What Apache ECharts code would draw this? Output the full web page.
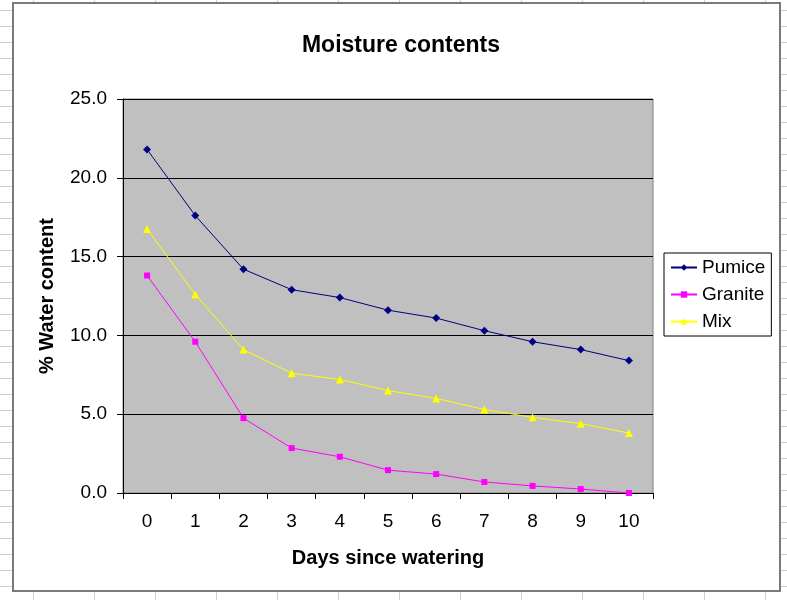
<!DOCTYPE html>
<html>
<head>
<meta charset="utf-8">
<script src="https://cdn.jsdelivr.net/npm/echarts@6/dist/echarts.min.js"></script>
<style>
html,body{margin:0;padding:0;width:787px;height:600px;overflow:hidden;}
body{
  background-color:#fff;
  background-image:
    linear-gradient(to bottom, #cfcfcf 1px, transparent 1px),
    linear-gradient(to right, #cfcfcf 1px, transparent 1px);
  background-size: 100% 16px, 61px 100%;
  background-position: 0 10px, 33px 0;
}
#box{position:absolute;left:12px;top:2px;width:765px;height:586px;background:#fff;border:2px solid #7a7a7a;}
#chart{position:absolute;left:0;top:0;width:787px;height:600px;}
</style>
</head>
<body>
<div id="box"></div>
<div id="chart"></div>
<script>
const categories = ['0','1','2','3','4','5','6','7','8','9','10'];
const pumice  = [21.8, 17.6, 14.2, 12.9, 12.4, 11.6, 11.1, 10.3, 9.6, 9.1, 8.4];
const granite = [13.8, 9.6, 4.75, 2.85, 2.3, 1.45, 1.2, 0.7, 0.45, 0.25, 0.0];
const mix     = [16.75, 12.6, 9.1, 7.6, 7.2, 6.5, 6.0, 5.3, 4.8, 4.4, 3.8];
const yTicks  = [0, 5, 10, 15, 20, 25];

const font = 'Arial, "Liberation Sans", sans-serif';
const chart = echarts.init(document.getElementById('chart'), null, {renderer:'canvas'});
function mk(name, data, color, symbol, size){
  return {
    name, type:'line', data, symbol, symbolSize:size,
    lineStyle:{color, width:1}, itemStyle:{color},
    emphasis:{disabled:true}, animation:false
  };
}
chart.setOption({
  backgroundColor:'transparent',
  animation:false,
  title:{
    text:'Moisture contents', left:396, top:29, textAlign:'center',
    textStyle:{fontFamily:font, fontSize:23, fontWeight:'bold', color:'#000'}
  },
  grid:{left:123, top:99, width:530, height:394, show:true,
        backgroundColor:'#C0C0C0', borderColor:'#808080', borderWidth:1},
  legend:{
    orient:'vertical', left:664, top:253,
    backgroundColor:'#fff', borderColor:'#000', borderWidth:1,
    padding:[5, 6, 5, 6], itemGap:8, itemWidth:26, itemHeight:8,
    textStyle:{fontFamily:font, fontSize:19, color:'#000'},
    data:['Pumice','Granite','Mix']
  },
  xAxis:{
    type:'category', data:categories, boundaryGap:true,
    name:'Days since watering', nameLocation:'middle', nameGap:55,
    nameTextStyle:{fontFamily:font, fontSize:20, fontWeight:'bold', color:'#000'},
    axisLine:{lineStyle:{color:'#000', width:1}},
    axisTick:{show:true, length:6, alignWithLabel:false, lineStyle:{color:'#000'}},
    axisLabel:{fontFamily:font, fontSize:19, color:'#000', margin:19},
    splitLine:{show:false}
  },
  yAxis:{
    type:'value', min:0, max:25, interval:5,
    name:'% Water content', nameLocation:'middle', nameGap:66,
    nameTextStyle:{fontFamily:font, fontSize:20, fontWeight:'bold', color:'#000'},
    axisLine:{show:true, lineStyle:{color:'#000', width:1}},
    axisTick:{show:true, length:6, lineStyle:{color:'#000'}},
    axisLabel:{fontFamily:font, fontSize:19, color:'#000', margin:16,
      formatter:v=>v.toFixed(1)},
    splitLine:{show:true, lineStyle:{color:'#000', width:1}}
  },
  series:[
    mk('Pumice', pumice, '#000080', 'diamond', 8),
    mk('Granite', granite, '#FF00FF', 'rect', 6),
    mk('Mix', mix, '#FFFF00', 'triangle', 8)
  ]
});
</script>
</body>
</html>
